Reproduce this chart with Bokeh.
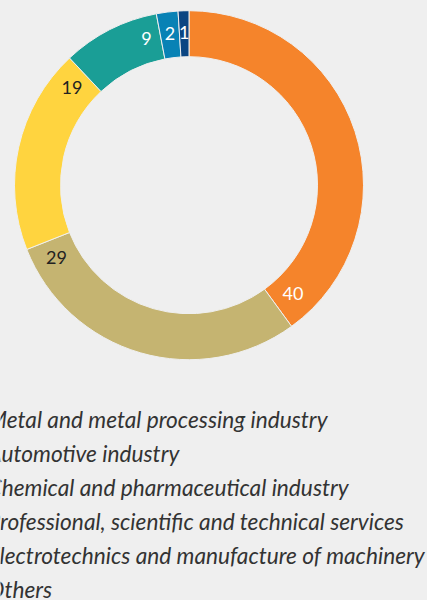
import math
from bokeh.plotting import figure
from bokeh.models import Range1d, ColumnDataSource
from bokeh.core.properties import value
from bokeh.embed import file_html
from bokeh.resources import INLINE

# ---- data ----
categories = [
    "Metal and metal processing industry",
    "Automotive industry",
    "Chemical and pharmaceutical industry",
    "Professional, scientific and technical services",
    "Electrotechnics and manufacture of machinery",
    "Others",
]
shares = [40, 29, 19, 9, 2, 1]
colors = ["#F5842B", "#C5B471", "#FFD43F", "#1A9E96", "#0882B5", "#0B4582"]
label_colors = ["#ffffff", "#222222", "#222222", "#ffffff", "#ffffff", "#ffffff"]

BG = "#efefef"
W, H = 427, 600
CX, CY = 188.5, -184.7
R_OUT, R_IN = 174.5, 128.5

p = figure(width=W, height=H, output_backend="svg", toolbar_location=None,
           x_range=Range1d(0, W), y_range=Range1d(-H, 0), min_border=0,
           background_fill_color=BG, border_fill_color=BG, outline_line_color=None)
p.axis.visible = False
p.grid.visible = False

total = float(sum(shares))
starts, ends, lx, ly, ltxt = [], [], [], [], []
cum = 0.0
r_mid = (R_OUT + R_IN) / 2
for v in shares:
    a0 = cum / total * 2 * math.pi
    cum += v
    a1 = cum / total * 2 * math.pi
    # clockwise from top
    starts.append(math.pi / 2 - a1)
    ends.append(math.pi / 2 - a0)
    half = (a1 - a0) / 2
    txt = str(v)
    off = (9.5 + 5 * len(txt)) / r_mid
    la = a1 - min(half, off)
    lx.append(CX + r_mid * math.sin(la))
    ly.append(CY + r_mid * math.cos(la) + 1.5)
    ltxt.append(txt)

src = ColumnDataSource(dict(start=starts, end=ends, color=colors))
p.annular_wedge(x=CX, y=CY, inner_radius=R_IN, outer_radius=R_OUT,
                start_angle="start", end_angle="end", fill_color="color",
                line_color=BG, line_width=1, source=src)

lsrc = ColumnDataSource(dict(x=lx, y=ly, t=ltxt, c=label_colors))
p.text(x="x", y="y", text="t", text_color="c", source=lsrc,
       text_font=value("Lato"), text_font_size="18px",
       text_align="center", text_baseline="middle")

# legend (cut off at the left edge as in the reference)
leg_y = [-(418.5 + 34 * i) for i in range(len(categories))]
leg_x = [-13] * len(categories)
gsrc = ColumnDataSource(dict(x=leg_x, y=leg_y, t=categories))
p.text(x="x", y="y", text="t", source=gsrc, text_color="#333333",
       text_font=value("Lato"), text_font_style="italic", text_font_size="22.7px",
       text_align="left", text_baseline="middle")

template = """
{% block preamble %}<style>html,body{margin:0;padding:0;background:#efefef;overflow:hidden}</style>{% endblock %}
"""
try:
    html = file_html(p, INLINE, template=template)
except Exception:
    p.width, p.height = W - 8, H - 8
    p.x_range.start = 8
    p.y_range.end = -8
    html = file_html(p, INLINE)
open("out.html", "w").write(html)
